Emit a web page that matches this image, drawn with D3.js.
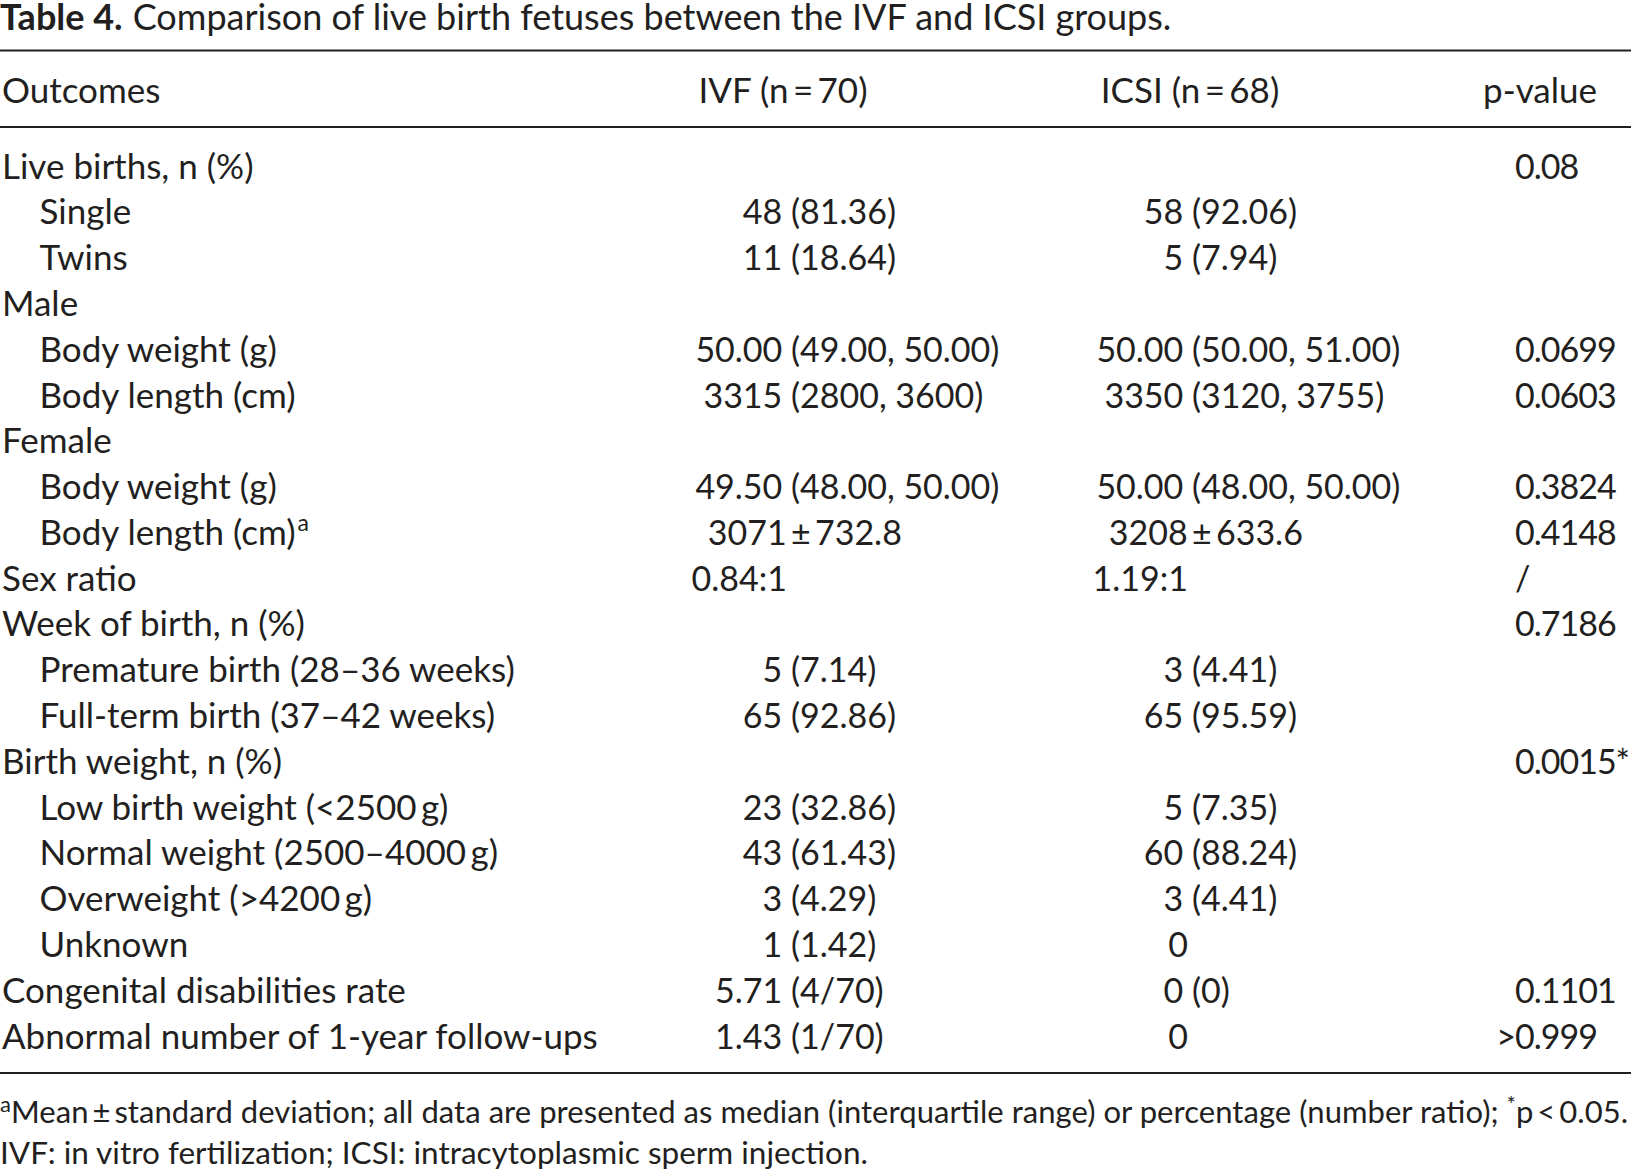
<!DOCTYPE html>
<html>
<head>
<meta charset="utf-8">
<script src="https://cdn.jsdelivr.net/npm/d3@7"></script>
<style>
html, body { margin: 0; padding: 0; background: #fff; }
svg text { font-family: Lato, "Open Sans", sans-serif; fill: #231f20; }
</style>
</head>
<body>
<svg id="chart" width="1631" height="1172"></svg>
<script>
// table content
const titleLabel = 'Table 4.'
const titleText = 'Comparison of live birth fetuses between the IVF and ICSI groups.'

const columns = ['Outcomes', 'IVF (n\u2009=\u200970)', 'ICSI (n\u2009=\u200968)', 'p-value']

const outcomes = [
    'Live births, n (%)', 'Single', 'Twins',
    'Male', 'Body weight (g)', 'Body length (cm)',
    'Female', 'Body weight (g)', 'Body length (cm)',
    'Sex ratio',
    'Week of birth, n (%)', 'Premature birth (28\u201336 weeks)', 'Full-term birth (37\u201342 weeks)',
    'Birth weight, n (%)', 'Low birth weight (<2500\u2009g)', 'Normal weight (2500\u20134000\u2009g)',
    'Overweight (>4200\u2009g)', 'Unknown',
    'Congenital disabilities rate', 'Abnormal number of 1-year follow-ups'
]
const outcomeLevel = [0, 1, 1, 0, 1, 1, 0, 1, 1, 0, 0, 1, 1, 0, 1, 1, 1, 1, 0, 0]
const outcomeMarks = ['', '', '', '', '', '', '', '', 'a', '', '', '', '', '', '', '', '', '', '', '']

const ivfValues = [
    '', '48 (81.36)', '11 (18.64)',
    '', '50.00 (49.00, 50.00)', '3315 (2800, 3600)',
    '', '49.50 (48.00, 50.00)', '3071\u2009\u00b1\u2009732.8',
    '0.84:1',
    '', '5 (7.14)', '65 (92.86)',
    '', '23 (32.86)', '43 (61.43)', '3 (4.29)', '1 (1.42)',
    '5.71 (4/70)', '1.43 (1/70)'
]
const icsiValues = [
    '', '58 (92.06)', '5 (7.94)',
    '', '50.00 (50.00, 51.00)', '3350 (3120, 3755)',
    '', '50.00 (48.00, 50.00)', '3208\u2009\u00b1\u2009633.6',
    '1.19:1',
    '', '3 (4.41)', '65 (95.59)',
    '', '5 (7.35)', '60 (88.24)', '3 (4.41)', '0',
    '0 (0)', '0'
]
const pValues = [
    '0.08', '', '',
    '', '0.0699', '0.0603',
    '', '0.3824', '0.4148',
    '/',
    '0.7186', '', '',
    '0.0015*', '', '', '', '',
    '0.1101', '>0.999'
]

const footnoteLine1 = [
    { t: 'a', sup: true },
    { t: 'Mean\u2009\u00b1\u2009standard deviation; all data are presented as median (interquartile range) or percentage (number ratio); ' },
    { t: '*', sup: true },
    { t: 'p\u2009<\u20090.05.' }
]
const footnoteLine2 = 'IVF: in vitro fertilization; ICSI: intracytoplasmic sperm injection.'

// layout
const W = 1631
const fs = 35
const fsNum = 34
const svg = d3.select('#chart')

const x = d3.scaleOrdinal()
    .domain(columns)
    .range([2, 791, 1192, 1515])
const headerX = d3.scaleOrdinal()
    .domain(columns)
    .range([2, 783, 1190, 1540])
const y = d3.scalePoint()
    .domain(d3.range(outcomes.length))
    .range([166, 1036])
const base = fs * 0.36

// title
const title = svg.append('text')
    .attr('x', 0)
    .attr('y', 30)
    .style('font-size', '36px')
title.append('tspan').style('font-weight', 700).text(titleLabel)
title.append('tspan').attr('dx', 10).text(titleText)

// rules
const rules = [50.5, 127, 1073]
svg.selectAll('line.rule')
    .data(rules)
    .enter().append('line')
    .attr('class', 'rule')
    .attr('x1', 0).attr('x2', W)
    .attr('y1', d => d).attr('y2', d => d)
    .attr('stroke', '#231f20')
    .attr('stroke-width', 2.2)

// header
svg.selectAll('text.head')
    .data(columns)
    .enter().append('text')
    .attr('class', 'head')
    .attr('x', d => headerX(d))
    .attr('y', 90.5 + base)
    .attr('text-anchor', (d, i) => i === 0 ? 'start' : 'middle')
    .style('font-size', fs + 'px')
    .text(d => d)

// outcome labels
const labels = svg.selectAll('text.label')
    .data(outcomes)
    .enter().append('text')
    .attr('class', 'label')
    .attr('x', (d, i) => x(columns[0]) + outcomeLevel[i] * 37.5)
    .attr('y', (d, i) => y(i) + base)
    .style('font-size', fs + 'px')

labels.append('tspan').text(d => d)
labels.each(function(d, i) {
    if (!outcomeMarks[i]) return
    d3.select(this).append('tspan')
        .attr('dx', 2)
        .attr('dy', -14)
        .style('font-size', '23px')
        .text(outcomeMarks[i])
})

// value columns: aligned on the opening parenthesis
function valueColumn(values, col) {
    const anchor = x(col)
    svg.selectAll(null)
        .data(values)
        .enter().append('text')
        .attr('y', (d, i) => y(i) + base)
        .style('font-size', fsNum + 'px')
        .text(d => d)
        .each(function(d) {
            const t = d3.select(this)
            let i = d.indexOf('(')
            if (i < 0) i = d.indexOf('\u00b1')
            if (i > 0) {
                t.attr('x', anchor - this.getSubStringLength(0, i))
            } else {
                t.attr('x', anchor - 4).attr('text-anchor', 'end')
            }
        })
}
valueColumn(ivfValues, columns[1])
valueColumn(icsiValues, columns[2])

// p-values: left aligned, ">" hangs into the margin
svg.selectAll('text.pval')
    .data(pValues)
    .enter().append('text')
    .attr('class', 'pval')
    .attr('y', (d, i) => y(i) + base)
    .style('font-size', fsNum + 'px')
    .style('letter-spacing', '-1px')
    .text(d => d)
    .each(function(d) {
        const hang = d.startsWith('>') ? this.getSubStringLength(0, 1) : 0
        d3.select(this).attr('x', x(columns[3]) - hang)
    })

// footnotes
const note1 = svg.append('text')
    .attr('x', 0)
    .attr('y', 1123)
    .attr('textLength', W - 3)
    .attr('lengthAdjust', 'spacing')
    .style('font-size', '31px')
note1.selectAll('tspan')
    .data(footnoteLine1)
    .enter().append('tspan')
    .attr('dy', (d, i) => d.sup ? -11 : (i > 0 && footnoteLine1[i - 1].sup ? 11 : 0))
    .style('font-size', d => d.sup ? '22px' : null)
    .text(d => d.t)

svg.append('text')
    .attr('x', 0)
    .attr('y', 1164)
    .style('font-size', '31.5px')
    .text(footnoteLine2)
</script>
</body>
</html>
